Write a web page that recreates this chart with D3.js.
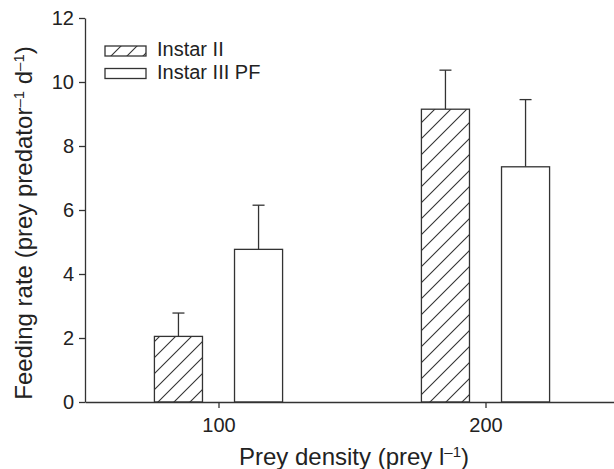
<!DOCTYPE html>
<html>
<head>
<meta charset="utf-8">
<script src="https://cdn.jsdelivr.net/npm/d3@7"></script>
<style>
  body { margin: 0; background: #fff; }
  svg { font-family: "Liberation Sans", Arial, sans-serif; }
  .axis path, .axis line { stroke: #333; stroke-width: 1.3px; }
  .axis text { fill: #222; font-size: 20px; }
</style>
</head>
<body>
<svg id="chart"></svg>
<script>
var width = 614,
    height = 469;

// data
var densities = [100, 200];
var series = ["Instar II", "Instar III PF"];
var instarII = [2.05, 9.15];
var instarIIIPF = [4.77, 7.35];
var errII = [0.73, 1.22];
var errIIIPF = [1.38, 2.1];
var yTicks = [0, 2, 4, 6, 8, 10, 12];

var margin = {top: 18, left: 85, bottom: 67};

var svg = d3.select("#chart")
    .attr("width", width)
    .attr("height", height);

var x = d3.scaleLinear()
    .domain([50, 250])
    .range([margin.left, margin.left + 534]);

var y = d3.scaleLinear()
    .domain([0, 12])
    .range([height - margin.bottom, margin.top]);

// offsets of each series from the density tick, bar width in data units
var barW = 18;
var offset = [-15, 15];

var defs = svg.append("defs");
var pat = defs.append("pattern")
    .attr("id", "hatch")
    .attr("patternUnits", "userSpaceOnUse")
    .attr("width", 16)
    .attr("height", 16);
pat.append("rect").attr("width", 16).attr("height", 16).attr("fill", "#fff");
pat.append("path")
    .attr("d", "M-4,4 L4,-4 M0,16 L16,0 M12,20 L20,12")
    .attr("stroke", "#333")
    .attr("stroke-width", 1.1);

var rows = [];
densities.forEach(function(d, i) {
  rows.push({dens: d, s: 0, v: instarII[i], e: errII[i]});
  rows.push({dens: d, s: 1, v: instarIIIPF[i], e: errIIIPF[i]});
});

// error bars (upper only)
var eb = svg.append("g").attr("stroke", "#333").attr("stroke-width", 1.3);
eb.selectAll(".stem")
    .data(rows)
  .enter().append("line")
    .attr("x1", function(d) { return x(d.dens + offset[d.s]); })
    .attr("x2", function(d) { return x(d.dens + offset[d.s]); })
    .attr("y1", function(d) { return y(d.v); })
    .attr("y2", function(d) { return y(d.v + d.e); });
eb.selectAll(".cap")
    .data(rows)
  .enter().append("line")
    .attr("x1", function(d) { return x(d.dens + offset[d.s]) - 6; })
    .attr("x2", function(d) { return x(d.dens + offset[d.s]) + 6; })
    .attr("y1", function(d) { return y(d.v + d.e); })
    .attr("y2", function(d) { return y(d.v + d.e); });

// bars
svg.append("g").selectAll("rect")
    .data(rows)
  .enter().append("rect")
    .attr("x", function(d) { return x(d.dens + offset[d.s] - barW / 2); })
    .attr("width", x(barW) - x(0))
    .attr("y", function(d) { return y(d.v); })
    .attr("height", function(d) { return y(0) - y(d.v); })
    .attr("fill", function(d) { return d.s === 0 ? "url(#hatch)" : "#fff"; })
    .attr("stroke", "#333")
    .attr("stroke-width", 1.3);

// axes
svg.append("g")
    .attr("class", "axis")
    .attr("transform", "translate(0," + y(0) + ")")
    .call(d3.axisBottom(x).tickValues(densities).tickSize(6).tickSizeOuter(0).tickPadding(10));

svg.append("g")
    .attr("class", "axis")
    .attr("transform", "translate(" + margin.left + ",0)")
    .call(d3.axisLeft(y).tickValues(yTicks).tickSize(6).tickSizeOuter(0).tickPadding(5));

// axis titles
var xt = svg.append("text")
    .attr("x", 354)
    .attr("y", 465)
    .attr("text-anchor", "middle")
    .attr("fill", "#222")
    .style("font-size", "24px");
xt.append("tspan").text("Prey density (prey l");
xt.append("tspan").attr("dy", -8).style("font-size", "15px").text("\u20131");
xt.append("tspan").attr("dy", 8).text(")");

var yt = svg.append("text")
    .attr("transform", "translate(32,223) rotate(-90)")
    .attr("text-anchor", "middle")
    .attr("fill", "#222")
    .style("font-size", "24px");
yt.append("tspan").text("Feeding rate (prey predator");
yt.append("tspan").attr("dy", -8).style("font-size", "15px").text("\u20131");
yt.append("tspan").attr("dy", 8).text(" d");
yt.append("tspan").attr("dy", -8).style("font-size", "15px").text("\u20131");
yt.append("tspan").attr("dy", 8).text(")");

// legend
var legend = svg.append("g").selectAll("g")
    .data(series)
  .enter().append("g")
    .attr("transform", function(d, i) { return "translate(105," + (46 + i * 22.5) + ")"; });
legend.append("rect")
    .attr("width", 41)
    .attr("height", 10)
    .attr("fill", function(d, i) { return i === 0 ? "url(#hatch)" : "#fff"; })
    .attr("stroke", "#333")
    .attr("stroke-width", 1.3);
legend.append("text")
    .attr("x", 52)
    .attr("y", 10)
    .attr("fill", "#222")
    .style("font-size", "20px")
    .text(function(d) { return d; });
</script>
</body>
</html>
